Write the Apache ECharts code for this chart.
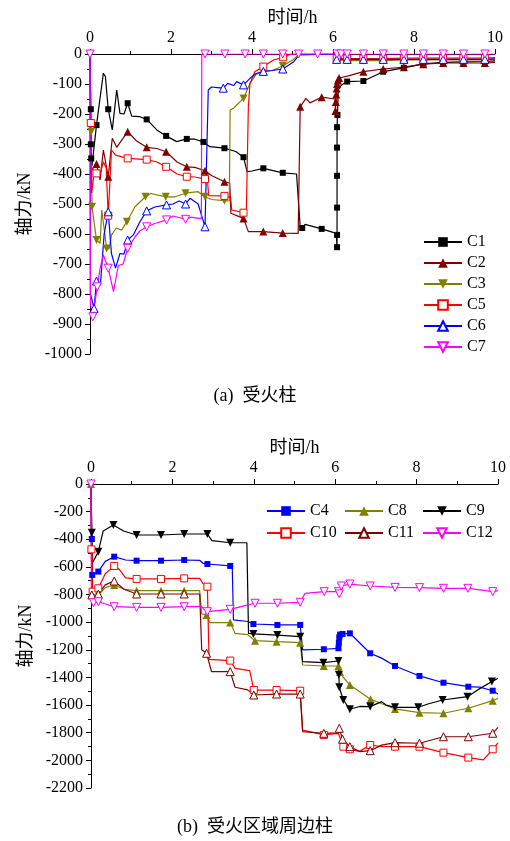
<!DOCTYPE html>
<html><head><meta charset="utf-8">
<script src="https://cdn.jsdelivr.net/npm/echarts@6/dist/echarts.min.js"></script>
<style>html,body{margin:0;padding:0;background:#fff}#c{width:510px;height:841px}</style>
</head><body><div id="c"></div>
<script>
// ---------- tick labels / axis ranges ----------
const xTicks = [0, 2, 4, 6, 8, 10];
const topYRange = [-1000, 0];
const botYRange = [-2200, 0];

// ---------- (a) fire-exposed columns: [time h, axial force kN] ----------
const c1 = [[0,0],[0.02,-184],[0.02,-301],[0.03,-348],[0.05,-372],[0.16,-237],[0.33,-64],[0.38,-75],[0.45,-184],[0.55,-253],[0.66,-120],[0.74,-198],[0.84,-200],[0.93,-164],[1.03,-207],[1.23,-209],[1.40,-218],[1.65,-253],[1.88,-273],[2.14,-292],[2.39,-283],[2.59,-284],[2.80,-293],[2.96,-309],[3.32,-314],[3.60,-325],[3.79,-344],[3.88,-392],[4.00,-390],[4.28,-381],[4.76,-396],[5.10,-400],[5.19,-576],[5.24,-580],[5.31,-568],[5.72,-583],[6.08,-598],[6.10,-644],[6.10,-603],[6.10,-512],[6.10,-406],[6.10,-312],[6.10,-244],[6.11,-203],[6.13,-120],[6.21,-103],[6.35,-92],[6.75,-90],[7.24,-59],[7.75,-46],[8.23,-33],[8.72,-28],[9.22,-26],[9.75,-25],[10,-23]];
const c1Marks = [1,2,3,5,8,13,16,18,20,22,24,26,29,30,33,35,37,38,39,40,41,42,43,46,47,48,49,50,51,52,53];

const c2 = [[0,0],[0.02,-390],[0.16,-367],[0.25,-420],[0.33,-320],[0.45,-409],[0.55,-281],[0.66,-311],[0.93,-259],[1.15,-290],[1.40,-311],[1.65,-315],[1.88,-326],[2.15,-360],[2.39,-376],[2.59,-378],[2.84,-389],[3.00,-405],[3.32,-426],[3.45,-430],[3.48,-531],[3.79,-548],[3.91,-592],[4.28,-592],[4.76,-597],[5.14,-598],[5.19,-176],[5.33,-148],[5.43,-163],[5.72,-144],[6.05,-150],[6.06,-190],[6.07,-160],[6.08,-135],[6.09,-115],[6.10,-100],[6.12,-88],[6.15,-80],[6.38,-73],[6.75,-59],[7.24,-50],[7.75,-44],[8.23,-34],[8.72,-30],[9.22,-30],[9.75,-30],[10,-28]];
const c2Marks = [2,5,8,10,12,14,16,18,21,23,24,26,29,31,32,33,34,35,36,37,39,40,41,42,43,44,45];

const c3 = [[0,0],[0.03,-259],[0.05,-509],[0.16,-620],[0.25,-631],[0.29,-520],[0.41,-648],[0.47,-650],[0.53,-603],[0.65,-580],[0.78,-587],[0.91,-559],[1.11,-509],[1.37,-476],[1.50,-465],[1.87,-476],[2.10,-476],[2.36,-464],[2.67,-459],[2.84,-476],[3.00,-485],[3.32,-489],[3.44,-490],[3.46,-187],[3.55,-180],[3.79,-148],[3.95,-98],[4.10,-68],[4.28,-59],[4.50,-55],[4.76,-40],[5.02,-18],[5.17,0],[6.07,0],[6.09,-20],[6.35,-22],[6.75,-22],[7.24,-22],[7.75,-20],[8.23,-20],[8.72,-20],[9.22,-20],[9.75,-20],[10,-18]];
const c3Marks = [1,2,3,6,11,13,15,17,19,21,25,28,30,34,35,36,37,38,39,40,41,42];

const c5 = [[0,0],[0.02,-230],[0.04,-463],[0.09,-410],[0.16,-398],[0.25,-400],[0.33,-359],[0.40,-380],[0.45,-539],[0.53,-320],[0.63,-337],[0.93,-348],[1.40,-352],[1.65,-360],[1.88,-376],[2.15,-400],[2.39,-409],[2.59,-410],[2.84,-417],[2.90,-420],[2.93,-472],[3.32,-473],[3.47,-478],[3.50,-520],[3.79,-529],[3.86,-530],[3.91,-176],[3.95,-98],[4.07,-59],[4.28,-42],[4.53,-20],[4.77,-11],[4.98,0],[6.07,0],[6.09,-15],[6.35,-15],[6.75,-15],[7.24,-15],[7.75,-14],[8.23,-14],[8.72,-14],[9.22,-14],[9.75,-14],[10,-12]];
const c5Marks = [1,4,8,11,12,14,16,18,21,24,29,31,34,35,36,37,38,39,40,41,42];

const c6 = [[0,0],[0.01,-798],[0.10,-848],[0.16,-757],[0.26,-765],[0.35,-600],[0.45,-526],[0.53,-665],[0.63,-714],[0.74,-665],[0.84,-667],[0.93,-620],[1.07,-603],[1.23,-560],[1.40,-523],[1.60,-510],[1.89,-503],[2.05,-500],[2.20,-490],[2.36,-500],[2.47,-481],[2.67,-500],[2.84,-576],[2.92,-120],[3.00,-110],[3.15,-112],[3.29,-114],[3.40,-98],[3.55,-105],[3.62,-92],[3.79,-103],[3.95,-81],[4.10,-65],[4.28,-58],[4.50,-55],[4.76,-50],[5.02,-27],[5.17,-3],[6.07,0],[6.09,-18],[6.35,-18],[6.75,-18],[7.24,-18],[7.75,-18],[8.23,-18],[8.72,-18],[9.22,-18],[9.75,-18],[10,-16]];
const c6Marks = [2,3,6,11,14,16,19,22,26,30,33,35,39,40,41,42,43,44,45,46,47];

const c7 = [[0,0],[0.01,-831],[0.07,-876],[0.18,-776],[0.25,-714],[0.33,-670],[0.45,-714],[0.58,-792],[0.70,-705],[0.82,-700],[0.93,-648],[1.11,-610],[1.23,-590],[1.40,-576],[1.60,-565],[1.89,-553],[2.05,-540],[2.20,-545],[2.36,-551],[2.49,-544],[2.67,-548],[2.75,-548],[2.76,0],[2.84,0],[3.33,0],[3.83,0],[4.28,0],[4.76,0],[5.15,0],[5.62,0],[6.10,0],[6.20,0],[6.35,0],[6.75,0],[7.24,0],[7.75,0],[8.23,0],[8.72,0],[9.22,0],[9.75,0],[10,0]];
const c7Marks = [0,2,3,6,10,13,15,18,23,24,25,26,27,28,29,30,31,32,33,34,35,36,37,38,39];

// ---------- (b) columns around the fire zone ----------
const c4 = [[0,0],[0.02,-398],[0.03,-658],[0.18,-634],[0.35,-560],[0.57,-526],[0.85,-550],[1.12,-555],[1.72,-555],[2.29,-550],[2.67,-552],[2.76,-575],[2.86,-579],[3.42,-593],[3.47,-593],[3.50,-984],[3.85,-995],[3.99,-1013],[4.58,-1020],[5.14,-1020],[5.20,-1201],[5.72,-1196],[6.08,-1189],[6.09,-1150],[6.10,-1110],[6.12,-1090],[6.18,-1085],[6.36,-1081],[6.50,-1120],[6.86,-1225],[7.14,-1260],[7.47,-1317],[8.07,-1389],[8.66,-1438],[9.27,-1467],[9.55,-1470],[9.87,-1496],[10,-1519]];
const c4Marks = [1,2,3,5,7,8,9,12,13,17,18,19,21,22,23,24,25,26,27,29,31,32,33,34,36];

const c8 = [[0,0],[0.02,-789],[0.18,-803],[0.35,-750],[0.57,-731],[0.85,-765],[1.12,-772],[1.72,-772],[2.29,-772],[2.67,-772],[2.72,-940],[2.84,-948],[2.92,-1003],[3.42,-1003],[3.54,-1081],[3.85,-1090],[4.03,-1134],[4.56,-1141],[5.14,-1148],[5.20,-1310],[5.72,-1317],[6.08,-1317],[6.12,-1360],[6.20,-1400],[6.36,-1454],[6.87,-1558],[7.47,-1628],[8.07,-1655],[8.66,-1659],[9.27,-1623],[9.87,-1568],[10,-1550]];
const c8Marks = [0,1,2,4,6,7,8,11,13,16,17,18,20,21,22,24,25,26,27,28,29,30];

const c9 = [[0,0],[0.02,-352],[0.03,-574],[0.18,-490],[0.30,-340],[0.55,-297],[0.80,-340],[1.12,-369],[1.72,-369],[2.29,-362],[2.86,-362],[2.97,-410],[3.42,-425],[3.83,-425],[3.87,-1081],[3.99,-1085],[4.58,-1093],[5.14,-1105],[5.20,-1286],[5.71,-1293],[6.08,-1281],[6.09,-1380],[6.10,-1471],[6.20,-1563],[6.36,-1630],[6.60,-1610],[6.86,-1611],[7.14,-1575],[7.25,-1600],[7.47,-1616],[8.04,-1616],[8.30,-1590],[8.64,-1563],[9.25,-1539],[9.50,-1490],[9.85,-1430],[10,-1406]];
const c9Marks = [1,3,5,7,8,9,10,12,15,16,17,19,20,21,22,23,24,26,29,30,32,33,35];

const c10 = [[0,0],[0.01,-473],[0.03,-520],[0.04,-779],[0.18,-755],[0.35,-650],[0.57,-593],[0.70,-620],[0.85,-680],[1.12,-687],[1.72,-687],[2.29,-683],[2.67,-683],[2.75,-720],[2.86,-743],[2.90,-1269],[3.42,-1278],[3.54,-1334],[3.90,-1350],[4.00,-1491],[4.56,-1491],[5.14,-1496],[5.20,-1780],[5.72,-1816],[6.08,-1805],[6.20,-1901],[6.36,-1920],[6.60,-1935],[6.86,-1889],[7.14,-1901],[7.47,-1901],[8.07,-1901],[8.66,-1944],[9.27,-1980],[9.64,-1997],[9.87,-1920],[10,-1874]];
const c10Marks = [1,3,4,6,9,10,11,14,16,19,20,21,23,25,26,28,30,31,32,33,35];

const c11 = [[0,0],[0.02,-803],[0.18,-797],[0.35,-730],[0.57,-702],[0.80,-760],[1.12,-796],[1.72,-796],[2.29,-796],[2.67,-796],[2.72,-1200],[2.84,-1225],[2.96,-1358],[3.42,-1358],[3.54,-1471],[3.85,-1490],[4.00,-1527],[4.56,-1520],[5.14,-1520],[5.20,-1792],[5.72,-1804],[6.08,-1800],[6.10,-1768],[6.18,-1847],[6.36,-1901],[6.61,-1937],[6.86,-1930],[7.14,-1890],[7.47,-1872],[8.07,-1876],[8.66,-1829],[9.27,-1829],[9.87,-1804],[10,-1761]];
const c11Marks = [1,2,4,6,7,8,11,13,16,17,18,20,22,23,24,26,28,29,30,31,32];

const c12 = [[0,0],[0.01,-827],[0.06,-859],[0.18,-852],[0.57,-888],[1.12,-893],[1.72,-893],[2.29,-888],[2.70,-885],[2.86,-924],[3.42,-907],[3.83,-876],[4.03,-863],[4.58,-863],[5.14,-856],[5.26,-791],[5.73,-779],[6.08,-779],[6.10,-795],[6.15,-738],[6.36,-724],[6.86,-738],[7.47,-748],[8.07,-750],[8.66,-755],[9.26,-755],[9.60,-768],[9.87,-779],[10,-772]];
const c12Marks = [0,2,3,4,5,6,7,9,10,12,13,14,16,17,18,19,20,21,22,23,24,25,27];

// ---------- styling ----------
const FONT = "'Liberation Serif', 'Times New Roman', 'Noto Sans CJK SC', serif";
const BLACK = '#000000', DRED = '#800000', OLIVE = '#808000', RED = '#ff0000', BLUE = '#0000ff', MAG = '#ff00ff';

function mk(name, pts, marks, color, symbol, hollow, size, rotate, gi) {
  const set = new Set(marks);
  const data = pts.map((p, i) => set.has(i) ? p : { value: p, symbol: 'none' });
  return {
    name, type: 'line', xAxisIndex: gi, yAxisIndex: gi, data,
    symbol, symbolSize: size, symbolRotate: rotate, showSymbol: true,
    lineStyle: { color, width: 1.2 },
    itemStyle: hollow ? { color: '#ffffff', borderColor: color, borderWidth: 1 } : { color, borderWidth: 0 },
    animation: false, z: 2
  };
}

const series = [
  mk('C1', c1, c1Marks, BLACK, 'rect', false, 6, 0, 0),
  mk('C2', c2, c2Marks, DRED, 'triangle', false, 8, 0, 0),
  mk('C3', c3, c3Marks, OLIVE, 'triangle', false, 8, 180, 0),
  mk('C5', c5, c5Marks, RED, 'rect', true, 7, 0, 0),
  mk('C6', c6, c6Marks, BLUE, 'triangle', true, 8, 0, 0),
  mk('C7', c7, c7Marks, MAG, 'triangle', true, 8, 180, 0),
  mk('C4', c4, c4Marks, BLUE, 'rect', false, 6, 0, 1),
  mk('C8', c8, c8Marks, OLIVE, 'triangle', false, 8, 0, 1),
  mk('C9', c9, c9Marks, BLACK, 'triangle', false, 8, 180, 1),
  mk('C10', c10, c10Marks, RED, 'rect', true, 7, 0, 1),
  mk('C11', c11, c11Marks, DRED, 'triangle', true, 8, 0, 1),
  mk('C12', c12, c12Marks, MAG, 'triangle', true, 8, 180, 1)
];

const axisBase = {
  axisLine: { show: true, lineStyle: { color: '#000', width: 1 } },
  axisTick: { show: true, inside: false, length: 5, lineStyle: { color: '#000' } },
  minorTick: { show: true, splitNumber: 2, length: 3, lineStyle: { color: '#000' } },
  splitLine: { show: false },
  axisLabel: { color: '#000', fontFamily: FONT, fontSize: 16, margin: 8, formatter: v => String(v) },
  nameTextStyle: { color: '#000', fontFamily: FONT, fontSize: 18 }
};

function xAx(gi) {
  return Object.assign({}, axisBase, {
    type: 'value', gridIndex: gi, position: 'top', min: xTicks[0], max: xTicks[xTicks.length - 1], interval: 2,
    name: '时间/h', nameLocation: 'middle', nameGap: 27
  });
}
function yAx(gi, rng, step, gap) {
  return Object.assign({}, axisBase, {
    type: 'value', gridIndex: gi, min: rng[0], max: rng[1], interval: step,
    name: '轴力/kN', nameLocation: 'middle', nameGap: gap
  });
}

const legendText = { color: '#000', fontFamily: FONT, fontSize: 16 };
const legBase = { orient: 'vertical', itemWidth: 38, itemHeight: 12, textStyle: legendText, selectedMode: false, padding: 0 };

const option = {
  backgroundColor: '#fff',
  animation: false,
  grid: [
    { left: 90, top: 54, width: 405, height: 300, containLabel: false },
    { left: 91, top: 484, width: 407, height: 304, containLabel: false }
  ],
  xAxis: [xAx(0), xAx(1)],
  yAxis: [yAx(0, topYRange, 100, 46), yAx(1, botYRange, 200, 47)],
  legend: [
    Object.assign({}, legBase, { left: 423, top: 234, itemGap: 5, data: ['C1', 'C2', 'C3', 'C5', 'C6', 'C7'] }),
    Object.assign({}, legBase, { left: 266, top: 503, itemGap: 6, data: ['C4', 'C10'] }),
    Object.assign({}, legBase, { left: 344, top: 503, itemGap: 6, data: ['C8', 'C11'] }),
    Object.assign({}, legBase, { left: 422, top: 503, itemGap: 6, data: ['C9', 'C12'] })
  ],
  graphic: [
    { type: 'text', left: 'center', top: 387, style: { text: '(a)  受火柱', fill: '#000', font: "18px " + FONT } },
    { type: 'text', left: 'center', top: 818, style: { text: '(b)  受火区域周边柱', fill: '#000', font: "18px " + FONT } }
  ],
  series
};

const chart = echarts.init(document.getElementById('c'), null, { renderer: 'canvas' });
chart.setOption(option);
</script>
</body></html>
